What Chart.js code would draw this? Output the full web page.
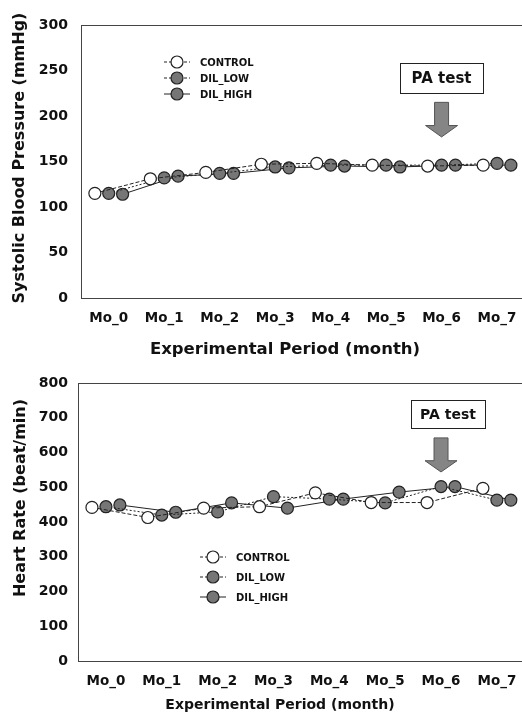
<!DOCTYPE html>
<html>
<head>
<meta charset="utf-8">
<script src="https://cdn.jsdelivr.net/npm/chart.js@4.4.1/dist/chart.umd.min.js"></script>
<style>
    html, body { margin: 0; padding: 0; background: #fff; }
    .panel { position: relative; width: 522px; height: 359px; }
</style>
</head>
<body>
<div class="panel"><canvas id="sbpChart"></canvas></div>
<div class="panel"><canvas id="hrChart"></canvas></div>
<script>
// Data
const months = ['Mo_0', 'Mo_1', 'Mo_2', 'Mo_3', 'Mo_4', 'Mo_5', 'Mo_6', 'Mo_7'];
const seriesNames = ['CONTROL', 'DIL_LOW', 'DIL_HIGH'];

const sbpControl = [115, 131, 138, 147, 148, 146, 145, 146];
const sbpLow     = [115, 132, 137, 144, 146, 146, 146, 148];
const sbpHigh    = [114, 134, 137, 143, 145, 144, 146, 146];
const sbpTicks   = [0, 50, 100, 150, 200, 250, 300];

const hrControl = [442, 413, 440, 444, 484, 456, 456, 497];
const hrLow     = [444, 420, 429, 473, 466, 455, 502, 463];
const hrHigh    = [449, 428, 455, 440, 466, 486, 502, 463];
const hrTicks   = [0, 100, 200, 300, 400, 500, 600, 700, 800];

// Styling
const FONT = "'DejaVu Sans', Verdana, sans-serif";
const groupShift = [-0.25, 0, 0.25];   // side-by-side placement inside each month
const pointFill = ['#ffffff', '#767676', '#767676'];
const lineDash = [[4, 2], [2, 2], []];

function makeDatasets(values) {
    return seriesNames.map((name, s) => ({
        label: name,
        data: values[s].map((v, i) => ({ x: i + groupShift[s], y: v })),
        borderColor: '#222',
        borderWidth: 1,
        borderDash: lineDash[s],
        pointRadius: 6,
        pointBackgroundColor: pointFill[s],
        pointBorderColor: '#222',
        pointBorderWidth: 1.2,
        tension: 0
    }));
}

// Top frame line, axis titles, legend and "PA test" marker
const figureExtras = {
    id: 'figureExtras',
    afterDraw(chart, args, opts) {
        const { ctx, chartArea: a, scales: { x, y } } = chart;
        ctx.save();

        ctx.strokeStyle = '#444';
        ctx.lineWidth = 1;
        ctx.beginPath();
        ctx.moveTo(a.left, a.top + 0.5);
        ctx.lineTo(a.right, a.top + 0.5);
        ctx.stroke();

        // axis titles
        ctx.fillStyle = '#111';
        ctx.textAlign = 'center';
        ctx.textBaseline = 'middle';
        ctx.font = `bold ${opts.xTitle.size}px ${FONT}`;
        ctx.fillText('Experimental Period (month)', opts.xTitle.x, opts.xTitle.y);
        ctx.save();
        ctx.translate(opts.yTitle.x, opts.yTitle.y);
        ctx.rotate(-Math.PI / 2);
        ctx.font = `bold ${opts.yTitle.size}px ${FONT}`;
        ctx.fillText(opts.yTitle.text, 0, 0);
        ctx.restore();

        // PA test box
        const ax = x.getPixelForValue(opts.arrowAt);
        const bx = ax + opts.boxShift;
        const bTop = y.getPixelForValue(opts.boxTop);
        const bBot = y.getPixelForValue(opts.boxBottom);
        ctx.fillStyle = '#fff';
        ctx.fillRect(bx - opts.boxWidth / 2, bTop, opts.boxWidth, bBot - bTop);
        ctx.strokeStyle = '#222';
        ctx.strokeRect(Math.round(bx - opts.boxWidth / 2) + 0.5, Math.round(bTop) + 0.5, opts.boxWidth, Math.round(bBot - bTop));
        ctx.fillStyle = '#111';
        ctx.font = `bold ${opts.boxFont}px ${FONT}`;
        ctx.fillText('PA test', bx, (bTop + bBot) / 2 + 1);

        // down arrow
        const aTop = y.getPixelForValue(opts.arrowTop);
        const aTip = y.getPixelForValue(opts.arrowTip);
        const headH = (aTip - aTop) * 0.33;
        ctx.beginPath();
        ctx.moveTo(ax - 7, aTop);
        ctx.lineTo(ax + 7, aTop);
        ctx.lineTo(ax + 7, aTip - headH);
        ctx.lineTo(ax + 16, aTip - headH);
        ctx.lineTo(ax, aTip);
        ctx.lineTo(ax - 16, aTip - headH);
        ctx.lineTo(ax - 7, aTip - headH);
        ctx.closePath();
        ctx.fillStyle = '#858585';
        ctx.fill();
        ctx.strokeStyle = '#555';
        ctx.stroke();

        // legend
        const mx = a.left + opts.legendX;
        ctx.font = `bold 10px ${FONT}`;
        ctx.textAlign = 'left';
        seriesNames.forEach((name, s) => {
            const ly = a.top + opts.legendY + s * opts.legendGap;
            ctx.strokeStyle = '#222';
            ctx.lineWidth = 1;
            ctx.setLineDash(lineDash[s].length ? [3, 2] : []);
            ctx.beginPath();
            ctx.moveTo(mx - 13, ly);
            ctx.lineTo(mx + 13, ly);
            ctx.stroke();
            ctx.setLineDash([]);
            ctx.beginPath();
            ctx.arc(mx, ly, 6, 0, Math.PI * 2);
            ctx.fillStyle = pointFill[s];
            ctx.fill();
            ctx.lineWidth = 1.2;
            ctx.stroke();
            ctx.fillStyle = '#111';
            ctx.fillText(name, mx + 23, ly + 1);
        });
        ctx.restore();
    }
};

function buildChart(id, cfg) {
    return new Chart(document.getElementById(id), {
        type: 'line',
        data: { datasets: makeDatasets(cfg.values) },
        options: {
            responsive: true,
            maintainAspectRatio: false,
            animation: false,
            layout: { autoPadding: false, padding: { top: cfg.padTop, right: 0, bottom: 0, left: 0 } },
            plugins: {
                legend: { display: false },
                tooltip: { enabled: false },
                figureExtras: cfg.extras
            },
            scales: {
                x: {
                    type: 'linear',
                    min: -0.5,
                    max: 7.45,
                    afterBuildTicks: s => { s.ticks = months.map((m, i) => ({ value: i })); },
                    afterFit: s => { s.height = cfg.xHeight; },
                    grid: { display: false, drawTicks: true, tickLength: 12 },
                    border: { display: true, color: '#444', width: 1 },
                    ticks: {
                        padding: 0,
                        color: '#111',
                        font: { family: FONT, size: 13.5, weight: 'bold' },
                        callback: v => months[v] ?? ''
                    }
                },
                y: {
                    min: 0,
                    max: cfg.yTicks[cfg.yTicks.length - 1],
                    afterBuildTicks: s => { s.ticks = cfg.yTicks.map(v => ({ value: v })); },
                    afterFit: s => { s.width = cfg.yWidth; },
                    grid: { display: false, drawTicks: false },
                    border: { display: true, color: '#444', width: 1 },
                    ticks: {
                        padding: cfg.yTickPad,
                        color: '#111',
                        font: { family: FONT, size: 14, weight: 'bold' }
                    }
                }
            }
        },
        plugins: [figureExtras]
    });
}

buildChart('sbpChart', {
    values: [sbpControl, sbpLow, sbpHigh],
    yTicks: sbpTicks,
    padTop: 25, xHeight: 61, yWidth: 81, yTickPad: 13,
    extras: {
        xTitle: { x: 285, y: 350, size: 16.5 },
        yTitle: { x: 20, y: 158, size: 16, text: 'Systolic Blood Pressure (mmHg)' },
        arrowAt: 6, boxShift: 0, boxWidth: 83, boxFont: 15,
        boxTop: 258, boxBottom: 225, arrowTop: 215, arrowTip: 177,
        legendX: 96, legendY: 37, legendGap: 16
    }
});

buildChart('hrChart', {
    values: [hrControl, hrLow, hrHigh],
    yTicks: hrTicks,
    padTop: 24, xHeight: 57, yWidth: 78, yTickPad: 10,
    extras: {
        xTitle: { x: 280, y: 346, size: 14 },
        yTitle: { x: 21, y: 139, size: 16, text: 'Heart Rate (beat/min)' },
        arrowAt: 6, boxShift: 7, boxWidth: 74, boxFont: 14,
        boxTop: 751, boxBottom: 671, arrowTop: 642, arrowTip: 544,
        legendX: 135, legendY: 174, legendGap: 20
    }
});
</script>
</body>
</html>
